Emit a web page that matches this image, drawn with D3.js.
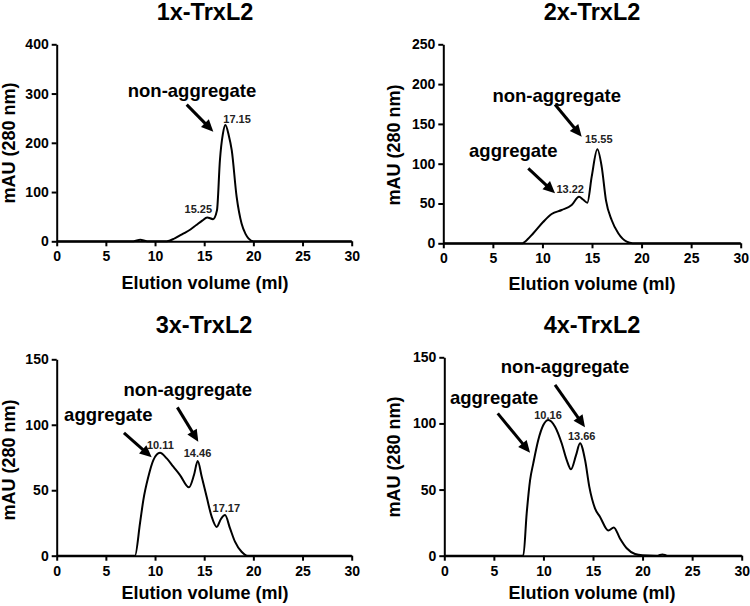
<!DOCTYPE html>
<html><head><meta charset="utf-8">
<script src="https://cdn.jsdelivr.net/npm/d3@7"></script>
<style>
body{margin:0;background:#fff}
svg{display:block}
text{font-family:"Liberation Sans",Arial,Helvetica,sans-serif;font-weight:bold;fill:#000}
</style>
</head><body><svg id="c" width="750" height="606"></svg>
<script>
// ---------- data ----------
const titles = ["1x-TrxL2", "2x-TrxL2", "3x-TrxL2", "4x-TrxL2"];
const xLabel = "Elution volume (ml)";
const yLabel = "mAU (280 nm)";
const xTicks = [0, 5, 10, 15, 20, 25, 30];
const yTicks1 = [0, 100, 200, 300, 400];
const yTicks2 = [0, 50, 100, 150, 200, 250];
const yTicks3 = [0, 50, 100, 150];
const yTicks4 = [0, 50, 100, 150];

const vol1 = [0, 7.8, 8.5, 9.2, 11.2, 12.0, 12.9, 13.6, 14.2, 14.8, 15.3, 15.9, 16.3, 16.6, 16.9, 17.15, 17.5, 17.8, 18.3, 18.8, 19.2, 19.5, 20, 30];
const mau1 = [0, 0, 3, 0, 0, 6, 16, 24, 33, 42, 48.5, 45, 63, 165, 218, 236, 215, 185, 90, 36, 15, 6, 0, 0];

const vol2 = [0, 8.0, 8.24, 9.08, 10.09, 10.93, 11.94, 12.95, 13.69, 14.1, 14.53, 14.97, 15.54, 15.98, 16.41, 16.99, 17.65, 18.5, 19.1, 30];
const mau2 = [0, 0, 2, 12.6, 27, 36.8, 41.8, 48, 58.5, 55, 51, 83.7, 118, 96, 54, 29, 12.6, 2, 0, 0];

const vol3 = [0, 7.96, 8.47, 8.81, 9.32, 9.83, 10.5, 11.19, 11.86, 12.54, 13.45, 13.96, 14.34, 14.75, 15.25, 15.76, 16.27, 16.7, 17.12, 17.62, 18.13, 18.8, 19.4, 30];
const mau3 = [0, 0, 24.7, 42.5, 60.3, 73, 78.6, 74.3, 68, 61.6, 52.2, 61.6, 72.3, 60.3, 45, 29.8, 22, 28, 31, 21, 10.7, 3, 0, 0];

const vol4 = [0, 7.97, 8.31, 8.65, 8.98, 9.48, 9.99, 10.5, 11.17, 11.84, 12.35, 12.78, 13.29, 13.69, 14.2, 14.63, 15.2, 15.7, 16.55, 17.1, 17.72, 18.4, 19.24, 20, 21.5, 22, 22.5, 30];
const mau4 = [0, 0, 32, 57, 70, 87.5, 98.8, 102.6, 97.5, 85, 72.3, 65.3, 76, 85, 72.3, 52, 35.8, 29.5, 19, 21.4, 13, 5.6, 1.3, 0.3, 0, 1, 0, 0];

// peak labels (text, anchor in data units)
const peakText1 = ["17.15", "15.25"], peakX1 = [18.34, 14.4], peakY1 = [240.8, 56.9];
const peakText2 = ["15.55", "13.22"], peakX2 = [15.68, 12.8], peakY2 = [126.4, 62.8];
const peakText3 = ["10.11", "14.46", "17.17"], peakX3 = [10.54, 14.32, 17.25], peakY3 = [81.5, 75.1, 33.6];
const peakText4 = ["10.16", "13.66"], peakX4 = [10.46, 13.86], peakY4 = [103.3, 87.5];

// annotation labels and arrows (data units: x, y of text; arrows x1,y1 -> x2,y2)
const noteText1 = ["non-aggregate"], noteX1 = [13.76], noteY1 = [292.4];
const arrows1 = [[13.22, 277.5, 15.93, 222.5]];
const noteText2 = ["non-aggregate", "aggregate"], noteX2 = [11.44, 7.06], noteY2 = [177.9, 108.8];
const arrows2 = [[11.27, 174.4, 13.96, 133.9], [8.57, 94.2, 11.27, 62.8]];
const noteText3 = ["non-aggregate", "aggregate"], noteX3 = [13.33, 5.25], noteY3 = [121.9, 102.8];
const arrows3 = [[12.27, 113.3, 14.4, 87], [6.84, 93.9, 9.66, 75.1]];
const noteText4 = ["non-aggregate", "aggregate"], noteX4 = [12.18, 5.03], noteY4 = [138.3, 114.7];
const arrows4 = [[11.17, 129.1, 14.19, 97.1], [5.39, 107.6, 8.65, 77.9]];

// ---------- layout ----------
const panels = [
  {vol: vol1, mau: mau1, yTicks: yTicks1, pk: [peakText1, peakX1, peakY1], nt: [noteText1, noteX1, noteY1], ar: arrows1,
   x0: 56.7, x1: 351.7, yT: 44.3, yB: 241.3, tx: 205, ty: 20, lx: 205, ly: 289, yx: 15, yy: 143},
  {vol: vol2, mau: mau2, yTicks: yTicks2, pk: [peakText2, peakX2, peakY2], nt: [noteText2, noteX2, noteY2], ar: arrows2,
   x0: 443.3, x1: 740.7, yT: 44.3, yB: 243.3, tx: 592, ty: 20, lx: 592, ly: 290, yx: 400, yy: 145},
  {vol: vol3, mau: mau3, yTicks: yTicks3, pk: [peakText3, peakX3, peakY3], nt: [noteText3, noteX3, noteY3], ar: arrows3,
   x0: 56.7, x1: 351.7, yT: 359.3, yB: 555.7, tx: 204, ty: 333, lx: 205, ly: 599, yx: 15, yy: 460},
  {vol: vol4, mau: mau4, yTicks: yTicks4, pk: [peakText4, peakX4, peakY4], nt: [noteText4, noteX4, noteY4], ar: arrows4,
   x0: 444.3, x1: 741.7, yT: 357.3, yB: 555.7, tx: 592, ty: 333, lx: 592, ly: 599, yx: 400, yy: 457}
];

const svg = d3.select("#c");

panels.forEach((p, i) => {
  const g = svg.append("g");
  const x = d3.scaleLinear().domain([0, 30]).range([p.x0, p.x1]);
  const y = d3.scaleLinear().domain([0, d3.max(p.yTicks)]).range([p.yB, p.yT]);

  // axes
  const xa = g.append("g").attr("transform", `translate(0,${p.yB})`)
    .call(d3.axisBottom(x).tickValues(xTicks).tickSize(5).tickSizeOuter(0).tickPadding(5));
  const ya = g.append("g").attr("transform", `translate(${p.x0},0)`)
    .call(d3.axisLeft(y).tickValues(p.yTicks).tickSize(5).tickSizeOuter(0).tickPadding(3));
  [xa, ya].forEach(a => {
    a.select(".domain").attr("stroke", "#000").attr("stroke-width", 2);
    a.selectAll(".tick line").attr("stroke", "#000").attr("stroke-width", 2);
    a.selectAll(".tick text").attr("fill", "#000").style("font-size", "14px")
      .style("font-family", '"Liberation Sans",Arial,sans-serif').style("font-weight", "bold");
  });

  // curve
  const pts = p.vol.map((v, k) => [v, p.mau[k]]);
  g.append("path").datum(pts)
    .attr("fill", "none").attr("stroke", "#000").attr("stroke-width", 2).attr("stroke-linejoin", "round")
    .attr("d", d3.line().x(d => x(d[0])).y(d => y(d[1])).curve(d3.curveMonotoneX));

  // titles and labels
  g.append("text").attr("x", p.tx).attr("y", p.ty).attr("text-anchor", "middle")
    .style("font-size", "23.5px").text(titles[i]);
  g.append("text").attr("x", p.lx).attr("y", p.ly).attr("text-anchor", "middle")
    .style("font-size", "18px").text(xLabel);
  g.append("text").attr("transform", `translate(${p.yx},${p.yy}) rotate(-90)`).attr("text-anchor", "middle")
    .style("font-size", "18px").text(yLabel);

  // peak labels
  p.pk[0].forEach((t, k) => {
    g.append("text").attr("x", x(p.pk[1][k])).attr("y", y(p.pk[2][k])).attr("text-anchor", "middle")
      .style("font-size", "11px").style("fill", "#222").text(t);
  });
  // notes
  p.nt[0].forEach((t, k) => {
    g.append("text").attr("x", x(p.nt[1][k])).attr("y", y(p.nt[2][k])).attr("text-anchor", "middle")
      .style("font-size", "18.5px").text(t);
  });
  // arrows
  p.ar.forEach(a => {
    const X1 = x(a[0]), Y1 = y(a[1]), X2 = x(a[2]), Y2 = y(a[3]);
    const ang = Math.atan2(Y2 - Y1, X2 - X1);
    const L = 12, W = 5.5;
    const bx = X2 - L * Math.cos(ang), by = Y2 - L * Math.sin(ang);
    g.append("line").attr("x1", X1).attr("y1", Y1).attr("x2", bx + Math.cos(ang)).attr("y2", by + Math.sin(ang))
      .attr("stroke", "#000").attr("stroke-width", 3);
    const nx = -Math.sin(ang), ny = Math.cos(ang);
    g.append("path").attr("fill", "#000")
      .attr("d", `M${X2},${Y2}L${bx + nx * W},${by + ny * W}L${bx - nx * W},${by - ny * W}Z`);
  });
});
</script>
</body></html>
